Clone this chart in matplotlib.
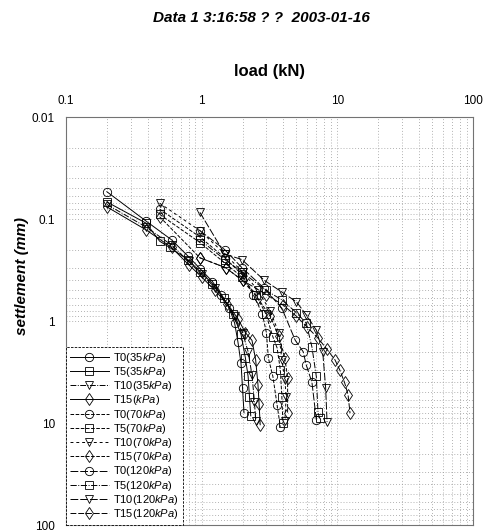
import matplotlib
matplotlib.use("Agg")
import matplotlib.pyplot as plt
from matplotlib.ticker import FixedLocator, FixedFormatter, LogLocator, NullFormatter

plt.rcParams['font.family'] = ['Liberation Sans', 'DejaVu Sans']
plt.rcParams['mathtext.fontset'] = 'custom'
plt.rcParams['mathtext.rm'] = 'Liberation Sans'
plt.rcParams['mathtext.it'] = 'Liberation Sans:italic'

title_text = "Data 1 3:16:58 ? ?  2003-01-16"
x_label = "load (kN)"
y_label = "settlement (mm)"
x_ticks = [0.1, 1, 10, 100]
x_tick_labels = ["0.1", "1", "10", "100"]
y_ticks = [0.01, 0.1, 1, 10, 100]
y_tick_labels = ["0.01", "0.1", "1", "10", "100"]

series_names = [
    r"T0(35$\mathit{kPa}$)", r"T5(35$\mathit{kPa}$)", r"T10(35$\mathit{kPa}$)", r"T15($\mathit{kPa}$)",
    r"T0(70$\mathit{kPa}$)", r"T5(70$\mathit{kPa}$)", r"T10(70$\mathit{kPa}$)", r"T15(70$\mathit{kPa}$)",
    r"T0(120$\mathit{kPa}$)", r"T5(120$\mathit{kPa}$)", r"T10(120$\mathit{kPa}$)", r"T15(120$\mathit{kPa}$)",
]

# load (kN)
load_T0_35 = [0.2, 0.39, 0.6, 0.79, 0.98, 1.2, 1.4, 1.6, 1.75, 1.85, 1.95, 2.0, 2.05]
load_T5_35 = [0.2, 0.39, 0.49, 0.58, 0.79, 0.98, 1.2, 1.45, 1.7, 1.95, 2.1, 2.2, 2.25, 2.3]
load_T10_35 = [0.2, 0.39, 0.6, 0.8, 1.0, 1.25, 1.5, 1.75, 2.0, 2.2, 2.35, 2.45, 2.5]
load_T15_35 = [0.2, 0.39, 0.6, 0.8, 1.0, 1.25, 1.55, 1.85, 2.1, 2.35, 2.5, 2.6, 2.65, 2.7]
load_T0_70 = [0.49, 0.97, 1.48, 1.98, 2.4, 2.8, 3.0, 3.1, 3.35, 3.6, 3.8]
load_T5_70 = [0.49, 0.97, 1.48, 1.98, 2.5, 2.97, 3.35, 3.6, 3.8, 3.9, 3.97]
load_T10_70 = [0.49, 0.97, 1.48, 2.0, 2.6, 3.2, 3.7, 3.9, 4.1, 4.2, 4.1]
load_T15_70 = [0.49, 0.97, 1.5, 2.0, 2.6, 3.2, 3.7, 4.1, 4.3, 4.3]
load_T0_120 = [0.97, 1.48, 1.98, 2.9, 3.9, 4.9, 5.6, 5.9, 6.5, 7.0]
load_T5_120 = [0.97, 1.48, 1.98, 2.97, 3.9, 5.0, 5.9, 6.5, 7.0, 7.2, 7.4]
load_T10_120 = [0.97, 1.48, 1.98, 2.9, 3.9, 5.0, 5.9, 7.0, 7.8, 8.2, 8.4]
load_T15_120 = [0.97, 1.5, 2.0, 3.0, 4.0, 5.0, 6.0, 7.2, 8.4, 9.6, 10.4, 11.3, 12.0, 12.4]

# settlement (mm)
settle_T0_35 = [0.054, 0.105, 0.16, 0.23, 0.31, 0.41, 0.55, 0.75, 1.05, 1.6, 2.6, 4.5, 7.9]
settle_T5_35 = [0.068, 0.11, 0.165, 0.19, 0.25, 0.33, 0.43, 0.6, 0.85, 1.35, 2.3, 3.5, 5.5, 8.5]
settle_T10_35 = [0.072, 0.12, 0.18, 0.26, 0.35, 0.47, 0.65, 0.9, 1.3, 2.0, 3.4, 6.2, 9.5]
settle_T15_35 = [0.076, 0.128, 0.19, 0.28, 0.37, 0.5, 0.68, 0.95, 1.3, 1.55, 2.4, 4.2, 6.5, 10.4]
settle_T0_70 = [0.08, 0.15, 0.24, 0.35, 0.55, 0.85, 1.3, 2.3, 3.5, 6.7, 10.9]
settle_T5_70 = [0.09, 0.17, 0.27, 0.37, 0.55, 0.85, 1.43, 1.84, 3.0, 5.5, 10.0]
settle_T10_70 = [0.07, 0.13, 0.22, 0.33, 0.5, 0.8, 1.3, 2.4, 3.8, 5.5, 9.5]
settle_T15_70 = [0.095, 0.24, 0.3, 0.4, 0.6, 0.9, 1.4, 2.3, 3.6, 7.9]
settle_T0_120 = [0.13, 0.2, 0.3, 0.48, 0.75, 1.55, 2.0, 2.7, 4.0, 9.3]
settle_T5_120 = [0.16, 0.25, 0.33, 0.5, 0.62, 0.83, 1.05, 1.8, 3.5, 7.8, 9.0]
settle_T10_120 = [0.086, 0.22, 0.25, 0.4, 0.52, 0.65, 0.87, 1.23, 2.0, 4.5, 9.8]
settle_T15_120 = [0.24, 0.3, 0.4, 0.55, 0.7, 0.9, 1.15, 1.47, 1.9, 2.4, 3.0, 4.0, 5.3, 8.0]

loads = [load_T0_35, load_T5_35, load_T10_35, load_T15_35,
         load_T0_70, load_T5_70, load_T10_70, load_T15_70,
         load_T0_120, load_T5_120, load_T10_120, load_T15_120]
settles = [settle_T0_35, settle_T5_35, settle_T10_35, settle_T15_35,
           settle_T0_70, settle_T5_70, settle_T10_70, settle_T15_70,
           settle_T0_120, settle_T5_120, settle_T10_120, settle_T15_120]

markers = ['o', 's', 'v', 'd'] * 3
linestyles = ['-', '-', (0, (6, 1.5, 1, 1.5)), '-',
              '--', '--', (0, (3, 3)), '--',
              (0, (8, 2)), '-.', (0, (8, 2)), (0, (6, 2))]

fig = plt.figure(figsize=(4.87, 5.31), dpi=100)
ax = fig.add_axes([66/487, 1-525/531, (473-66)/487, (525-117)/531])

for xs, ys, name, mk, ls in zip(loads, settles, series_names, markers, linestyles):
    ax.plot(xs, ys, color='black', lw=0.7, linestyle=ls, marker=mk,
            markersize=6, markerfacecolor='none', markeredgecolor='black',
            markeredgewidth=0.6, label=name)

ax.set_xscale('log')
ax.set_yscale('log')
ax.set_xlim(0.1, 100)
ax.set_ylim(100, 0.01)

ax.xaxis.set_major_locator(FixedLocator(x_ticks))
ax.xaxis.set_major_formatter(FixedFormatter(x_tick_labels))
ax.yaxis.set_major_locator(FixedLocator(y_ticks))
ax.yaxis.set_major_formatter(FixedFormatter(y_tick_labels))
ax.xaxis.set_minor_locator(LogLocator(base=10, subs=range(2, 10)))
ax.yaxis.set_minor_locator(LogLocator(base=10, subs=range(2, 10)))
ax.xaxis.set_minor_formatter(NullFormatter())
ax.yaxis.set_minor_formatter(NullFormatter())

ax.xaxis.tick_top()
ax.xaxis.set_label_position('top')
ax.tick_params(which='both', length=0)
ax.tick_params(axis='x', labelsize=8.5, pad=7)
ax.tick_params(axis='y', labelsize=8.5, pad=8)

ax.grid(which='both', linestyle=(0, (1, 2.5)), color='0.6', linewidth=0.6)
for sp in ax.spines.values():
    sp.set_color('0.45')
    sp.set_linewidth(0.8)

ax.set_xlabel(x_label, fontsize=12, fontweight='bold', labelpad=14)
ax.set_ylabel(y_label, fontsize=11, fontweight='bold', fontstyle='italic')
ax.yaxis.set_label_coords(-0.092, 0.61)

fig.text(261/487, 1-18/531, title_text, fontsize=11, fontweight='bold',
         fontstyle='italic', ha='center', va='center')

leg = ax.legend(loc='lower left', bbox_to_anchor=(0, 0), borderaxespad=0,
                fontsize=8, handlelength=3.5, labelspacing=0.02,
                handletextpad=0.4, borderpad=0.35, fancybox=False,
                framealpha=1, edgecolor='black')
leg.get_frame().set_linewidth(0.6)
leg.get_frame().set_linestyle((0, (3, 1.5)))

fig.savefig('out.png', dpi=100)
